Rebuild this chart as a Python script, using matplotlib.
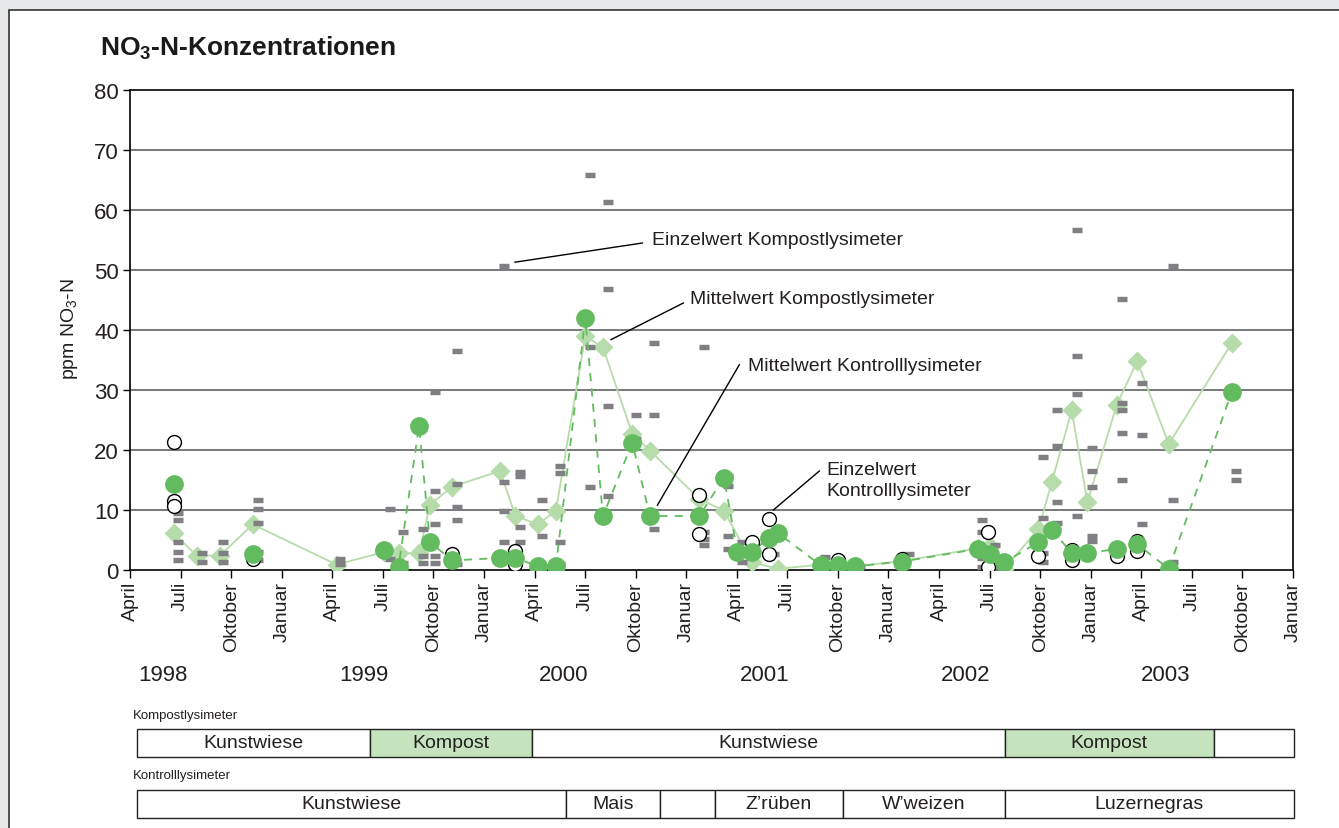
import numpy as np
import matplotlib
matplotlib.use("Agg")
import matplotlib.pyplot as plt
from matplotlib.patches import Rectangle
from matplotlib.transforms import blended_transform_factory

plt.rcParams['font.family'] = ['Liberation Sans', 'DejaVu Sans']
plt.rcParams['mathtext.default'] = 'regular'

# -------------------------------------------------------------
# Daten (x = Monate seit 1. Januar 1998, y = ppm NO3-N)
# -------------------------------------------------------------

# Mittelwert Kompostlysimeter (Rauten, durchgezogene Linie)
kompost_mittel_monat = [5.61, 6.96, 8.34, 10.28, 15.26, 18.07, 18.93, 20.15, 20.80, 22.13,
                        24.95, 25.87, 27.21, 28.27, 30.01, 31.06, 32.80, 33.85, 36.78, 38.24,
                        39.89, 41.46, 43.98, 45.02, 46.01, 48.80, 53.29, 54.02, 54.87, 56.89,
                        57.70, 58.87, 59.80, 61.54, 62.76, 64.63, 68.36]
kompost_mittel_wert = [6.1, 2.4, 2.4, 7.6, 0.9, 3.0, 2.8, 2.8, 10.9, 13.9,
                       16.5, 9.0, 7.6, 9.9, 39.0, 37.1, 22.7, 19.9, 11.8, 9.9,
                       1.3, 0.2, 0.9, 0.9, 0.6, 1.5, 3.6, 4.0, 0.2, 6.8,
                       14.7, 26.6, 11.3, 27.5, 34.8, 21.0, 37.8]

# Mittelwert Kontrolllysimeter (Kreise, gestrichelte Linie ab 1999)
kontroll_1998_monat = [5.61, 10.28]
kontroll_1998_wert = [14.3, 2.6]
kontroll_mittel_monat = [18.07, 18.93, 20.15, 20.80, 22.13, 24.95, 25.87, 27.21, 28.27, 30.01,
                         31.06, 32.80, 33.85, 36.78, 38.24, 39.03, 39.89, 40.91, 41.46, 43.98,
                         45.02, 46.01, 48.80, 53.29, 54.02, 54.87, 56.89, 57.70, 58.87, 59.80,
                         61.54, 62.76, 64.63, 68.36]
kontroll_mittel_wert = [3.4, 0.5, 24.0, 4.6, 1.6, 2.0, 2.0, 0.6, 0.6, 42.0,
                        9.0, 21.2, 9.0, 9.0, 15.4, 3.0, 3.0, 5.4, 6.1, 0.8,
                        0.8, 0.6, 1.4, 3.5, 2.7, 1.3, 4.6, 6.7, 2.8, 2.8,
                        3.5, 4.3, 0.2, 29.6]

# Einzelwerte Kompostlysimeter (graue Striche)
einzel_kompost_monat = [5.85, 5.85, 5.85, 5.85, 5.85, 7.25, 7.25, 8.52, 8.52, 8.52,
                        10.59, 10.59, 10.59, 10.59, 10.59, 15.46, 15.46, 18.43, 18.43,
                        19.20, 19.20, 20.38, 20.38, 20.38, 21.10, 21.10, 21.10, 21.10, 21.10,
                        22.40, 22.40, 22.40, 22.40, 22.40, 25.19, 25.19, 25.19, 25.19,
                        26.14, 26.14, 26.14, 26.14, 27.44, 27.44, 28.51, 28.51, 28.51, 28.51,
                        30.29, 30.29, 30.29, 31.34, 31.34, 31.34, 31.34, 33.05, 33.05,
                        34.11, 34.11, 34.11, 37.06, 37.06, 37.06, 37.06, 38.50, 38.50, 38.50, 38.50,
                        39.29, 39.29, 41.23, 44.23, 46.31, 49.22, 53.55, 53.55, 53.55, 53.55,
                        54.32, 54.32, 57.15, 57.15, 57.15, 57.15, 57.97, 57.97, 57.97, 57.97,
                        59.16, 59.16, 59.16, 59.16, 60.09, 60.09, 60.09, 60.09, 60.09,
                        61.84, 61.84, 61.84, 61.84, 61.84, 63.02, 63.02, 63.02,
                        64.88, 64.88, 64.88, 68.62, 68.62]
einzel_kompost_wert = [9.5, 8.4, 4.6, 3.0, 1.6, 2.9, 1.3, 4.6, 2.9, 1.3,
                       11.6, 10.2, 7.8, 3.0, 1.6, 1.8, 1.0, 10.2, 1.8,
                       6.4, 1.2, 6.8, 2.4, 1.2, 29.7, 13.2, 7.6, 2.4, 1.2,
                       36.5, 14.4, 10.5, 8.3, 1.0, 50.7, 14.7, 9.9, 4.6,
                       16.3, 15.6, 7.2, 4.6, 11.7, 5.7, 17.3, 16.2, 4.6, 1.0,
                       65.8, 37.1, 13.9, 61.4, 46.8, 27.4, 12.4, 25.8, 21.8,
                       37.9, 25.8, 6.8, 37.1, 6.3, 5.2, 4.2, 15.7, 14.0, 5.7, 3.5,
                       4.6, 1.3, 2.7, 2.1, 0.6, 2.7, 8.3, 6.4, 2.0, 0.5,
                       4.2, 0.4, 18.8, 8.6, 2.9, 1.3, 26.7, 20.7, 11.3, 7.9,
                       56.6, 35.6, 29.3, 9.0, 20.3, 16.5, 13.9, 5.7, 4.9,
                       45.2, 27.8, 26.7, 22.9, 15.0, 31.2, 22.5, 7.6,
                       50.7, 11.7, 1.3, 16.5, 15.0]

# Einzelwerte Kontrolllysimeter (offene Kreise)
einzel_kontroll_monat = [5.61, 5.61, 5.61, 10.28, 22.13, 25.87, 25.87, 36.78, 36.78, 39.89,
                         40.91, 40.91, 45.02, 46.01, 48.80, 53.92, 53.92, 56.89, 58.87, 58.87,
                         61.54, 62.76, 62.76]
einzel_kontroll_wert = [21.4, 11.5, 10.6, 1.8, 2.6, 3.2, 1.0, 12.5, 6.0, 4.6,
                        8.5, 2.7, 1.6, 0.1, 1.8, 6.4, 0.45, 2.4, 3.4, 1.6,
                        2.4, 4.8, 3.1]

# Achsenbeschriftung
monat_ticks = np.arange(3, 73, 3)
monat_namen = ['April', 'Juli', 'Oktober', 'Januar']
jahre = ['1998', '1999', '2000', '2001', '2002', '2003']

# Bewirtschaftung (Grenzen in Monaten seit Jan 1998)
kompost_grenzen = [3.4, 17.24, 26.85, 54.9, 67.3, 72.05]
kompost_labels = ['Kunstwiese', 'Kompost', 'Kunstwiese', 'Kompost', '']
kompost_gedüngt = [False, True, False, True, False]
kontroll_grenzen = [3.4, 28.87, 34.45, 37.7, 45.3, 54.9, 72.05]
kontroll_labels = ['Kunstwiese', 'Mais', '', 'Z\u2019rüben', 'W\u2019weizen', 'Luzernegras']

# -------------------------------------------------------------
# Farben
# -------------------------------------------------------------
GRUEN = '#63bb5f'
HELLGRUEN = '#b6dcab'
GRAU = '#7f7f84'
KOMPOST_FILL = '#c5e4bd'
TEXT = '#231f20'

W, H = 1339, 829
fig = plt.figure(figsize=(W / 100, H / 100), dpi=100)
fig.patch.set_facecolor('#e6e7e9')
fig.add_artist(Rectangle((9 / W, -0.1), 1.2, 1 - 11 / H + 0.1, transform=fig.transFigure,
                         facecolor='white', edgecolor='#333333', lw=1.2, zorder=-10))

ax = fig.add_axes([130 / W, 1 - 571 / H, (1293 - 130) / W, (571 - 91) / H])
ax.set_xlim(3, 72)
ax.set_ylim(0, 80)
ax.set_facecolor('white')

for y in range(10, 80, 10):
    ax.axhline(y, color='#6d6e71', lw=1.3, zorder=0)

ax.plot(kompost_mittel_monat, kompost_mittel_wert, '-', color=HELLGRUEN, lw=1.3, zorder=2)
ax.plot(kompost_mittel_monat, kompost_mittel_wert, 'D', color=HELLGRUEN, ms=10, mec='none', zorder=3)
ax.plot(einzel_kompost_monat, einzel_kompost_wert, '_', color=GRAU, ms=7.4, mew=3.9, zorder=4)
ax.plot(kontroll_mittel_monat, kontroll_mittel_wert, '--', color=GRUEN, lw=1.3,
        dashes=(4.5, 4), zorder=4)
ax.plot(einzel_kontroll_monat, einzel_kontroll_wert, 'o', mfc='white', mec='black',
        mew=1.0, ms=10, zorder=5)
ax.plot(kontroll_1998_monat + kontroll_mittel_monat, kontroll_1998_wert + kontroll_mittel_wert,
        'o', color=GRUEN, ms=13.5, mec='none', zorder=6)

for s in ax.spines.values():
    s.set_color('black')
    s.set_linewidth(1.2)

ax.set_yticks(range(0, 81, 10))
ax.tick_params(axis='y', direction='out', length=5, width=1.0, labelsize=16, pad=3,
               labelcolor=TEXT)
ax.set_xticks(monat_ticks)
ax.set_xticklabels([monat_namen[i % 4] for i in range(len(monat_ticks))], rotation=90)
ax.tick_params(axis='x', direction='out', length=6, width=1.0, labelsize=14, pad=2,
               labelcolor=TEXT)

xfig = blended_transform_factory(ax.transData, fig.transFigure)
for i, j in enumerate(jahre):
    fig.text(4.95 + 11.9 * i, 1 - 676 / H, j, transform=xfig, ha='center', va='center',
             fontsize=16, color=TEXT)

# Beschriftungen mit Hinweislinien
anno = [
    ('Einzelwert Kompostlysimeter', (25.84, 51.3), (33.4, 54.5), (33.97, 55.0)),
    ('Mittelwert Kompostlysimeter', (31.54, 38.4), (35.83, 44.5), (36.22, 45.2)),
    ('Mittelwert Kontrolllysimeter', (34.29, 10.8), (39.15, 34.2), (39.67, 34.0)),
    ('Einzelwert\nKontrolllysimeter', (41.17, 10.0), (43.9, 16.5), (44.3, 15.0)),
]
for txt, p0, p1, pt in anno:
    ax.plot([p0[0], p1[0]], [p0[1], p1[1]], color='black', lw=1.0, zorder=7)
    ax.text(pt[0], pt[1], txt, ha='left', va='center', fontsize=14, color=TEXT,
            linespacing=1.25, zorder=7)

# Titel und y-Achsentitel
fig.text(100 / W, 1 - 48 / H, 'NO$_3$-N-Konzentrationen', fontsize=19, fontweight='bold',
         ha='left', va='center', color='#1a1a1a')
fig.text(70 / W, 1 - 329 / H, 'ppm NO$_3$-N', rotation=90, fontsize=14, ha='center',
         va='center', color=TEXT)

# Bewirtschaftungsbalken
def balken(grenzen, labels, fuellung, y_oben, y_unten):
    yb = 1 - y_unten / H
    hb = (y_unten - y_oben) / H
    for k in range(len(labels)):
        x0, x1 = grenzen[k], grenzen[k + 1]
        fc = KOMPOST_FILL if fuellung[k] else 'white'
        r = Rectangle((x0, yb), x1 - x0, hb, transform=xfig, facecolor=fc,
                      edgecolor='#222222', lw=1.0, clip_on=False)
        fig.add_artist(r)
        if labels[k]:
            fig.text((x0 + x1) / 2, yb + hb / 2, labels[k], transform=xfig, ha='center',
                     va='center', fontsize=14, color=TEXT)

fig.text(133 / W, 1 - 716 / H, 'Kompostlysimeter', fontsize=9.5, ha='left', va='center',
         color=TEXT)
balken(kompost_grenzen, kompost_labels, kompost_gedüngt, 730, 758)
fig.text(133 / W, 1 - 776 / H, 'Kontrolllysimeter', fontsize=9.5, ha='left', va='center',
         color=TEXT)
balken(kontroll_grenzen, kontroll_labels, [False] * len(kontroll_labels), 791, 819)

fig.savefig('out.png', dpi=100, facecolor=fig.get_facecolor())
